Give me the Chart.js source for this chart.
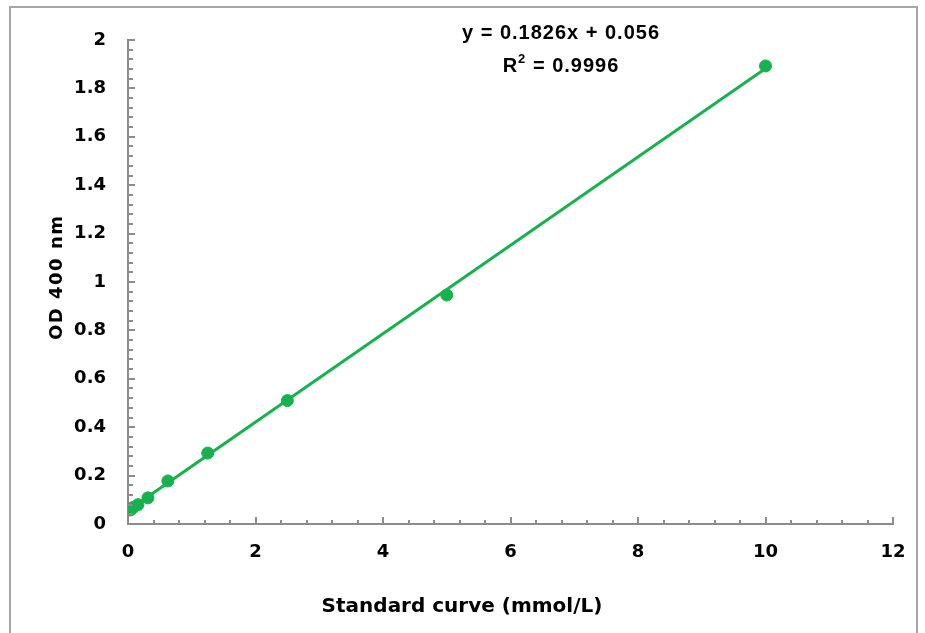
<!DOCTYPE html>
<html>
<head>
<meta charset="utf-8">
<script src="https://cdn.jsdelivr.net/npm/chart.js@4"></script>
<style>
  html, body { margin: 0; padding: 0; background: #fff; }
  #wrap { width: 925px; height: 633px; position: relative; }
</style>
</head>
<body>
<div id="wrap"><canvas id="myChart" width="925" height="633"></canvas></div>
<script>
// standard concentrations (mmol/L) and measured OD400
var conc = [0.039, 0.078, 0.156, 0.3125, 0.625, 1.25, 2.5, 5, 10];
var od = [0.058, 0.068, 0.080, 0.108, 0.178, 0.293, 0.510, 0.946, 1.893];

// linear trendline as printed on the chart
var slope = 0.1826;
var intercept = 0.056;
var eqText = 'y = 0.1826x + 0.056';
var r2Text = '0.9996';
var xTitle = 'Standard curve (mmol/L)';
var yTitle = 'OD 400 nm';

var green = '#17b24f';
var axisGrey = '#8c8c8c';
var verdana = '"DejaVu Sans", Verdana, sans-serif';
var calibri = '"Liberation Sans", Arial, sans-serif';

var points = conc.map((x, i) => ({ x: x, y: od[i] }));
var xMin = Math.min.apply(null, conc), xMax = Math.max.apply(null, conc);
var trend = [
    { x: xMin, y: slope * xMin + intercept },
    { x: xMax, y: slope * xMax + intercept }
];

// outer frame, inward minor/major ticks, axis titles, equation text
var extras = {
    id: 'extras',
    beforeDraw(chart) {
        let ctx = chart.ctx;
        ctx.save();
        ctx.strokeStyle = '#a6a6a6';
        ctx.lineWidth = 2;
        ctx.strokeRect(10, 7, chart.width - 18, chart.height + 10);
        ctx.restore();
    },
    afterDraw(chart) {
        let ctx = chart.ctx;
        let xs = chart.scales.x, ys = chart.scales.y;
        ctx.save();
        ctx.strokeStyle = axisGrey;
        ctx.lineWidth = 2;
        // y ticks (minor every 0.04)
        for (let i = 0; i <= 50; i++) {
            let py = Math.round(ys.getPixelForValue(i * 0.04));
            let len = (i % 5 === 0) ? 7 : 5;
            ctx.beginPath();
            ctx.moveTo(xs.left, py);
            ctx.lineTo(xs.left + len, py);
            ctx.stroke();
        }
        // x ticks (minor every 0.4)
        for (let i = 0; i <= 30; i++) {
            let px = Math.round(xs.getPixelForValue(i * 0.4));
            let len = (i % 5 === 0) ? 7 : 4;
            ctx.beginPath();
            ctx.moveTo(px, ys.bottom);
            ctx.lineTo(px, ys.bottom - len);
            ctx.stroke();
        }

        ctx.fillStyle = '#000';
        ctx.textBaseline = 'middle';
        ctx.textAlign = 'center';

        // axis titles
        ctx.font = 'bold 20px ' + verdana;
        ctx.fillText(xTitle, 462, 607);
        ctx.save();
        ctx.translate(57, 278);
        ctx.rotate(-Math.PI / 2);
        ctx.font = 'bold 18px ' + verdana;
        ctx.letterSpacing = '1.5px';
        ctx.fillText(yTitle, 0.75, 0);
        ctx.restore();

        // equation
        ctx.letterSpacing = '1px';
        let big = 'bold 20px ' + calibri, small = 'bold 13px ' + calibri;
        ctx.font = big;
        let cx = 561;
        ctx.fillText(eqText, cx, ys.top - 7);
        let rest = ' = ' + r2Text;
        let wR = ctx.measureText('R').width;
        let wRest = ctx.measureText(rest).width;
        ctx.font = small;
        let wSup = ctx.measureText('2').width;
        let x0 = cx - (wR + wSup + wRest) / 2;
        let y2 = ys.top + 26;
        ctx.textAlign = 'left';
        ctx.font = big;
        ctx.fillText('R', x0, y2);
        ctx.fillText(rest, x0 + wR + wSup, y2);
        ctx.font = small;
        ctx.fillText('2', x0 + wR, y2 - 7);
        ctx.restore();
    }
};

let chart = document.getElementById('myChart').getContext('2d');

let stdChart = new Chart(chart, {
    type: 'scatter',
    data: {
        datasets: [
            {
                label: 'Linear fit',
                data: trend,
                showLine: true,
                borderColor: green,
                borderWidth: 3,
                pointRadius: 0,
                order: 2
            },
            {
                label: 'Standards',
                data: points,
                backgroundColor: green,
                borderColor: green,
                pointRadius: 6,
                pointHoverRadius: 6,
                order: 1
            }
        ]
    },
    options: {
        responsive: false,
        animation: false,
        layout: { padding: { top: 40, right: 32, left: 0, bottom: 0 } },
        plugins: { legend: { display: false }, tooltip: { enabled: false } },
        scales: {
            x: {
                type: 'linear',
                min: 0,
                max: 12,
                afterFit: (s) => { s.height = 109; },
                grid: { display: false, drawTicks: false },
                border: { color: axisGrey, width: 2 },
                ticks: {
                    stepSize: 2,
                    padding: 18,
                    color: '#000',
                    font: { family: verdana, size: 18, weight: 'bold' }
                }
            },
            y: {
                type: 'linear',
                min: 0,
                max: 2,
                afterFit: (s) => { s.width = 128; },
                grid: { display: false, drawTicks: false },
                border: { color: axisGrey, width: 2 },
                ticks: {
                    stepSize: 0.2,
                    padding: 22,
                    color: '#000',
                    callback: (v) => Number(v.toFixed(1)).toString(),
                    font: { family: verdana, size: 18, weight: 'bold' }
                }
            }
        }
    },
    plugins: [extras]
});
</script>
</body>
</html>
